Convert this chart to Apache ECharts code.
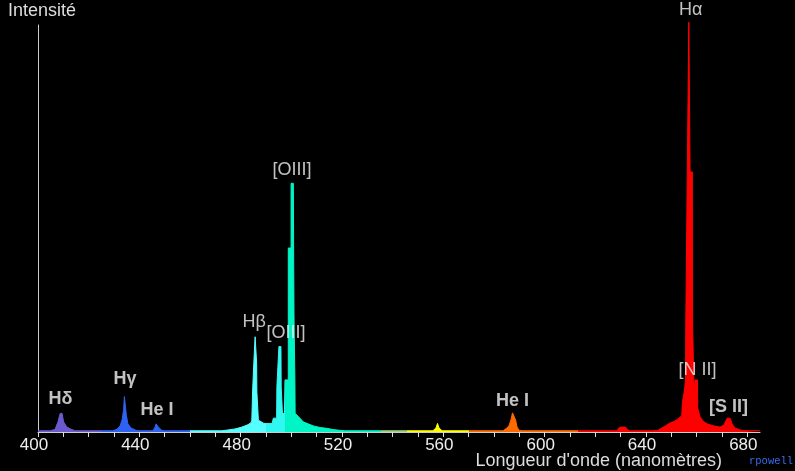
<!DOCTYPE html>
<html>
<head>
<meta charset="utf-8">
<script src="https://cdn.jsdelivr.net/npm/echarts@6/dist/echarts.min.js"></script>
<style>
html,body{margin:0;padding:0;background:#000;}
#chart{width:795px;height:471px;}
</style>
</head>
<body>
<div id="chart"></div>
<script>
// Wavelength (nm) and relative intensity
const wavelengths = [
  400.0, 404.7, 406.7, 407.9, 408.7, 409.1, 409.5, 410.1, 411.3, 412.6, 414.6,
  429.6, 431.2, 432.4, 433.2, 433.8, 434.1, 434.5, 434.9, 435.5, 436.7, 438.7, 440.3,
  445.4, 446.2, 446.6, 447.2, 447.8, 448.9, 450.0,
  472.6, 475.0, 477.8, 480.5, 482.9, 484.1, 484.4, 484.7, 485.1, 485.2, 485.6, 485.7, 486.2, 486.3, 486.4, 486.8, 487.0, 487.6,
  489.2, 492.4, 492.9, 494.2, 494.3, 495.05, 495.1, 495.9, 496.0, 496.3, 496.5, 497.3,
  497.5, 498.8, 498.8, 499.9, 499.9, 500.8, 500.9, 501.05, 501.05, 501.4, 501.4, 501.5,
  502.2, 503.4, 504.7, 506.6, 508.7, 511.3, 514.0, 516.4, 519.2, 521.2,
  555.9, 557.1, 557.7, 558.3, 559.5,
  583.6, 584.7, 585.9, 586.7, 587.3, 587.9, 588.5, 589.1, 589.9, 591.1,
  628.6, 629.3, 630.1, 631.7, 632.5, 633.3,
  642.4, 644.7, 646.3, 647.9, 649.5, 651.4, 652.6, 654.1, 654.4, 655.2, 655.6, 655.7,
  656.3, 656.3, 656.9, 656.9, 657.4, 657.4, 658.3, 658.4, 658.9, 659.0, 659.3, 659.3, 660.3, 660.4,
  661.3, 662.5, 664.1, 666.8, 669.2, 670.8, 672.0, 672.6, 673.2, 674.0, 675.1, 677.1, 679.5, 685.0
];
const intensities = [
  0.3, 0.3, 0.6, 2.5, 4.5, 4.7, 4.6, 2.5, 1.3, 0.8, 0.3,
  0.3, 0.7, 1.5, 3.0, 5.5, 8.7, 8.7, 4.0, 2.0, 1.0, 0.4, 0.3,
  0.3, 1.2, 2.0, 2.0, 1.0, 0.4, 0.3,
  0.3, 0.5, 0.75, 1.2, 1.8, 2.3, 2.9, 9.8, 9.8, 17.0, 17.0, 23.4, 23.4, 17.0, 9.8, 9.8, 2.9, 2.5,
  2.1, 2.1, 3.4, 3.4, 11.1, 11.1, 21.0, 21.0, 11.1, 11.1, 4.4, 4.7,
  12.8, 12.8, 45.2, 45.2, 61.1, 61.1, 45.2, 45.2, 28.7, 28.7, 12.8, 4.6,
  4.2, 3.4, 2.5, 2.0, 1.5, 1.1, 0.9, 0.6, 0.4, 0.3,
  0.3, 1.0, 2.1, 1.0, 0.3,
  0.3, 0.8, 1.5, 3.0, 4.7, 4.7, 3.0, 1.2, 0.4, 0.3,
  0.3, 1.0, 1.2, 1.2, 0.8, 0.3,
  0.3, 0.4, 1.0, 1.6, 2.2, 2.7, 3.2, 4.0, 7.4, 10.3, 12.8, 26.3,
  26.3, 63.9, 63.9, 100.7, 100.7, 63.9, 63.9, 26.3, 26.3, 9.1, 9.1, 12.8, 12.8, 5.9,
  3.8, 2.7, 2.0, 1.5, 1.2, 1.7, 3.4, 3.8, 3.4, 2.0, 1.0, 0.5, 0.3, 0.3
];
// Line identifications: text, wavelength and intensity position of each label
const lineNames = ['Hδ', 'Hγ', 'He I', 'Hβ', '[OIII]', '[OIII]', 'He I', 'Hα', '[N II]', '[S II]'];
const lineLabelX = [408.9, 434.3, 447.0, 485.3, 497.9, 500.3, 587.3, 657.6, 660.3, 672.6];
const lineLabelY = [8.2, 12.9, 5.4, 26.9, 24.3, 64.4, 7.6, 103.8, 15.2, 6.1];
const xTickValues = [400,410,420,430,440,450,460,470,480,490,500,510,520,530,540,550,560,570,580,590,600,610,620,630,640,650,660,670,680];
const xLabelValues = [400, 440, 480, 520, 560, 600, 640, 680];

const boldNames = ['Hδ', 'Hγ', 'He I', '[S II]'];
const colourBands = [
  {gte: 400, lt: 425, color: '#6a5acd'},
  {gte: 425, lt: 460, color: '#2d62f2'},
  {gte: 460, lt: 490, color: '#55ffff'},
  {gte: 490, lt: 497.5, color: '#30f8f0'},
  {gte: 497.5, lt: 535.5, color: '#00f5c6'},
  {gte: 535.5, lt: 545.5, color: '#9ad07a'},
  {gte: 545.5, lt: 570, color: '#ffff00'},
  {gte: 570, lt: 613.3, color: '#ff6a00'},
  {gte: 613.3, lte: 690, color: '#ff0000'}
];

const spectrum = wavelengths.map((w, i) => [w, intensities[i]]);
const labelData = lineNames.map((n, i) => ({
  value: [lineLabelX[i], lineLabelY[i]],
  name: n,
  label: {fontWeight: boldNames.indexOf(n) >= 0 ? 'bold' : 'normal'}
}));

const chart = echarts.init(document.getElementById('chart'), null, {renderer: 'canvas'});
chart.setOption({
  backgroundColor: '#000',
  animation: false,
  grid: {left: 38, right: 35, top: 25, bottom: 39, containLabel: false},
  xAxis: {
    type: 'value', min: 400, max: 685,
    axisLine: {show: true, lineStyle: {color: '#cccccc', width: 1}},
    axisTick: {show: true, length: 5, lineStyle: {color: '#dddddd'}, customValues: xTickValues},
    axisLabel: {
      color: '#eeeeee', fontSize: 17, fontFamily: 'Liberation Sans, Arial, sans-serif',
      margin: 5, padding: [0, 8, 0, 0], customValues: xLabelValues
    },
    splitLine: {show: false}
  },
  yAxis: {
    type: 'value', min: 0, max: 100,
    axisLine: {show: true, lineStyle: {color: '#cccccc', width: 1}},
    axisTick: {show: false}, axisLabel: {show: false}, splitLine: {show: false}
  },
  visualMap: {
    show: false, type: 'piecewise', dimension: 0, seriesIndex: 0,
    pieces: colourBands, outOfRange: {color: '#ff0000'}
  },
  series: [
    {
      type: 'line', data: spectrum, showSymbol: false, symbol: 'none',
      lineStyle: {width: 1}, areaStyle: {opacity: 1}, clip: false, silent: true, z: 3
    },
    {
      type: 'scatter', data: labelData, symbolSize: 1, clip: false, silent: true,
      itemStyle: {color: 'rgba(0,0,0,0)'}, z: 5,
      label: {
        show: true, position: 'inside', formatter: p => p.name,
        color: '#f2f2f2', fontSize: 18, fontFamily: 'Liberation Sans, Arial, sans-serif'
      }
    }
  ],
  graphic: [
    {type: 'text', left: 8, top: 2, silent: true,
     style: {text: 'Intensité', fill: '#dddddd', font: '18px "Liberation Sans", Arial, sans-serif'}},
    {type: 'text', x: 722, y: 461, silent: true,
     style: {text: "Longueur d'onde (nanomètres)", fill: '#dddddd', align: 'right', verticalAlign: 'middle',
             font: '18px "Liberation Sans", Arial, sans-serif'}},
    {type: 'text', x: 749, y: 461, silent: true,
     style: {text: 'rpowell', fill: '#3a6cf0', align: 'left', verticalAlign: 'middle',
             font: '10.5px "Liberation Mono", monospace'}}
  ]
});
</script>
</body>
</html>
